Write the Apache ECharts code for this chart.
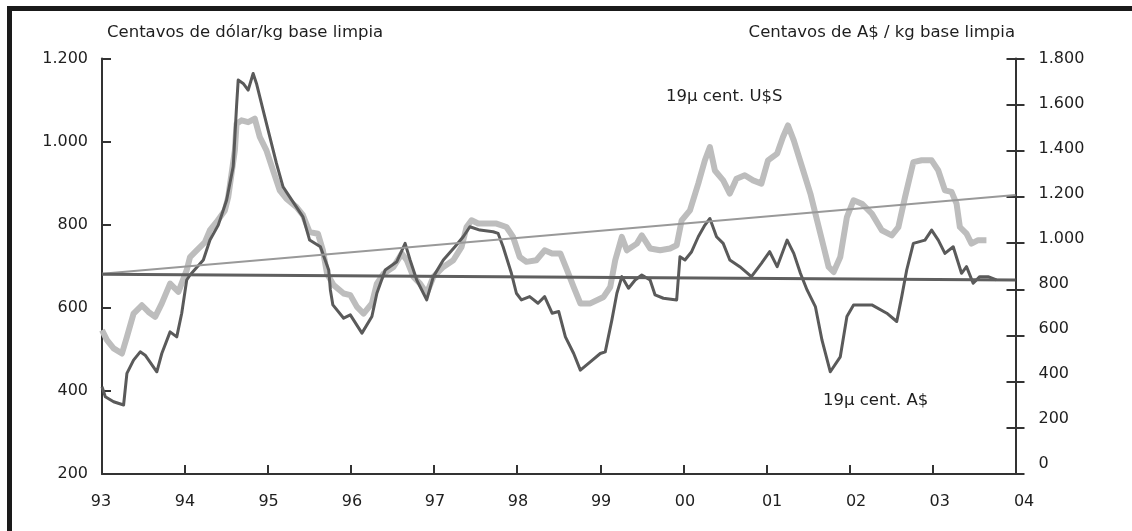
<!DOCTYPE html>
<html>
<head>
<meta charset="utf-8">
<script src="https://cdn.jsdelivr.net/npm/echarts@6/dist/echarts.min.js"></script>
<style>html,body{margin:0;padding:0;background:#fff}#c{width:1132px;height:531px}</style>
</head>
<body>
<div id="c"></div>
<script>
// 19µ — cents of US dollar per kg clean (left axis)
const usYears = [
  1993.00,1993.04,1993.14,1993.26,1993.30,1993.38,1993.46,1993.52,1993.66,1993.72,
  1993.82,1993.90,1993.96,1994.02,1994.06,1994.22,1994.30,1994.40,1994.50,1994.58,
  1994.62,1994.64,1994.70,1994.76,1994.82,1994.86,1994.94,1995.02,1995.10,1995.18,
  1995.26,1995.42,1995.50,1995.63,1995.73,1995.75,1995.78,1995.91,1995.99,1996.13,
  1996.25,1996.31,1996.41,1996.55,1996.65,1996.71,1996.79,1996.91,1996.99,1997.11,
  1997.25,1997.35,1997.43,1997.55,1997.71,1997.77,1997.83,1997.93,1997.99,1998.05,
  1998.15,1998.25,1998.33,1998.42,1998.50,1998.58,1998.68,1998.76,1998.88,1999.00,
  1999.06,1999.14,1999.20,1999.26,1999.34,1999.42,1999.50,1999.60,1999.66,1999.76,
  1999.92,1999.96,2000.02,2000.10,2000.18,2000.26,2000.32,2000.40,2000.48,2000.56,
  2000.68,2000.82,2000.94,2001.04,2001.13,2001.25,2001.33,2001.41,2001.49,2001.59,
  2001.67,2001.77,2001.89,2001.97,2002.05,2002.27,2002.45,2002.57,2002.63,2002.69,
  2002.77,2002.91,2002.99,2003.07,2003.15,2003.25,2003.35,2003.41,2003.49,2003.57,
  2003.67,2003.77
];
const usValues = [
  410,386,374,366,442,474,494,486,446,490,
  542,530,587,667,679,715,763,799,859,940,
  1084,1148,1140,1124,1164,1140,1076,1012,948,891,
  867,819,763,747,691,643,607,575,583,539,
  579,635,691,711,755,715,667,619,675,715,
  747,771,795,787,783,779,747,683,635,619,
  627,611,627,587,591,530,490,450,470,490,
  494,571,635,675,647,667,679,667,631,623,
  619,723,715,735,771,799,815,771,755,715,
  699,675,707,735,699,763,731,683,643,603,
  522,446,482,579,607,607,587,567,627,691,
  755,763,787,763,731,747,683,699,659,675,
  675,667
];
// 19µ — cents of A$ per kg clean (right axis)
const audYears = [
  1993.00,1993.06,1993.14,1993.24,1993.30,1993.38,1993.48,1993.56,1993.64,1993.72,
  1993.82,1993.92,1994.02,1994.06,1994.14,1994.24,1994.30,1994.38,1994.48,1994.52,
  1994.56,1994.60,1994.62,1994.68,1994.76,1994.84,1994.90,1994.98,1995.06,1995.14,
  1995.22,1995.34,1995.42,1995.50,1995.60,1995.66,1995.71,1995.79,1995.91,1995.99,
  1996.07,1996.15,1996.25,1996.31,1996.39,1996.51,1996.61,1996.67,1996.75,1996.83,
  1996.91,1996.99,1997.11,1997.23,1997.33,1997.39,1997.45,1997.53,1997.63,1997.75,
  1997.87,1997.95,1998.03,1998.11,1998.23,1998.33,1998.42,1998.52,1998.60,1998.68,
  1998.76,1998.88,1999.04,1999.12,1999.18,1999.26,1999.32,1999.44,1999.50,1999.60,
  1999.72,1999.84,1999.92,1999.98,2000.08,2000.18,2000.26,2000.32,2000.38,2000.48,
  2000.56,2000.64,2000.74,2000.84,2000.94,2001.02,2001.13,2001.20,2001.26,2001.33,
  2001.43,2001.53,2001.61,2001.69,2001.75,2001.81,2001.89,2001.97,2002.05,2002.15,
  2002.27,2002.39,2002.51,2002.59,2002.67,2002.77,2002.87,2002.99,2003.07,2003.15,
  2003.23,2003.29,2003.33,2003.41,2003.47,2003.55,2003.65
];
const audValues = [
  623,580,544,522,594,695,731,702,681,739,
  825,789,883,940,969,1005,1056,1092,1142,1200,
  1301,1402,1517,1532,1524,1539,1460,1402,1315,1229,
  1193,1157,1121,1048,1041,969,868,818,782,775,
  724,695,739,825,868,897,955,926,854,825,
  782,854,897,926,984,1070,1099,1085,1085,1085,
  1070,1027,940,919,926,969,955,955,883,810,
  739,739,767,810,926,1027,969,998,1034,977,
  969,977,991,1099,1142,1258,1359,1416,1315,1272,
  1215,1279,1294,1272,1258,1359,1388,1460,1510,1445,
  1330,1215,1099,984,897,875,940,1113,1186,1171,
  1128,1056,1034,1070,1200,1351,1359,1359,1315,1229,
  1222,1171,1070,1041,998,1013,1013
];
// trend lines
const trendYears = [1993, 2004];
const usTrend = [681, 667];
const audTrend = [868, 1209];

const xTickYears = [1993,1994,1995,1996,1997,1998,1999,2000,2001,2002,2003,2004];

const zip = (xs, ys) => xs.map((x, i) => [x, ys[i]]);
const FONT = 'DejaVu Sans';
const TXT = '#1e1e1e';
const AX = '#333';

function thousands(v) {
  if (v >= 1000) {
    const r = v % 1000;
    return Math.floor(v / 1000) + '.' + String(r).padStart(3, '0');
  }
  return String(v);
}

// small per-label offsets seen in the reference layout
const xLabelShift = {1993:-1,1994:0,1995:0.5,1996:0.8,1997:0.8,1998:0.8,1999:0.8,2000:1.7,2001:5.7,2002:6.7,2003:7.2,2004:8.6};
const xRich = {};
xTickYears.forEach(y => {
  const s = xLabelShift[y] || 0;
  xRich['y' + y] = {fontFamily: FONT, fontSize: 16, color: TXT,
    padding: s >= 0 ? [0, 0, 0, 2 * s] : [0, -2 * s, 0, 0]};
});
const rRich = {};
for (let v = 0; v <= 1800; v += 200) {
  const s = (1800 - v) / 180;
  rRich['r' + v] = {fontFamily: FONT, fontSize: 16, color: TXT, padding: [0, 0, 2 * s, 0]};
}

const chart = echarts.init(document.getElementById('c'), null, {renderer: 'canvas'});
chart.setOption({
  animation: false,
  backgroundColor: '#fff',
  grid: {left: 102, right: 116.5, top: 58.5, bottom: 57, containLabel: false},
  xAxis: {
    type: 'value', min: 1993, max: 2004, interval: 1,
    axisLine: {show: true, lineStyle: {color: AX, width: 2}},
    axisTick: {show: true, inside: true, length: 9, lineStyle: {color: AX, width: 2}},
    splitLine: {show: false},
    axisLabel: {
      margin: 20,
      formatter: v => '{y' + v + '|' + String(v % 100).padStart(2, '0') + '}',
      rich: xRich
    }
  },
  yAxis: [
    {
      type: 'value', position: 'left', min: 200, max: 1200, interval: 200,
      axisLine: {show: true, lineStyle: {color: AX, width: 2}},
      axisTick: {show: true, inside: true, length: 9, lineStyle: {color: AX, width: 2}},
      splitLine: {show: false},
      axisLabel: {margin: 14, fontFamily: FONT, fontSize: 16, color: TXT, formatter: thousands}
    },
    {
      type: 'value', position: 'right', min: 0, max: 1800, interval: 200,
      axisLine: {show: true, onZero: false, lineStyle: {color: AX, width: 2}},
      axisTick: {show: true, inside: false, length: 9, lineStyle: {color: AX, width: 2}},
      splitLine: {show: false},
      axisLabel: {margin: 23, formatter: v => '{r' + v + '|' + thousands(v) + '}', rich: rRich}
    },
    {
      type: 'value', position: 'right', min: 0, max: 1800, interval: 200,
      axisLine: {show: false},
      axisTick: {show: true, inside: true, length: 9, lineStyle: {color: AX, width: 2}},
      splitLine: {show: false},
      axisLabel: {show: false}
    }
  ],
  series: [
    {
      name: '19µ cent. A$', type: 'line', yAxisIndex: 1, z: 2,
      data: zip(audYears, audValues), showSymbol: false, symbol: 'none',
      lineStyle: {color: '#bdbdbd', width: 6, join: 'round'}
    },
    {
      name: '19µ cent. U$S', type: 'line', yAxisIndex: 0, z: 3,
      data: zip(usYears, usValues), showSymbol: false, symbol: 'none',
      lineStyle: {color: '#5a5a5a', width: 3, join: 'round'}
    },
    {
      name: 'Tendencia A$', type: 'line', yAxisIndex: 1, z: 4,
      data: zip(trendYears, audTrend), showSymbol: false, symbol: 'none',
      lineStyle: {color: '#999999', width: 2}
    },
    {
      name: 'Tendencia U$S', type: 'line', yAxisIndex: 0, z: 4,
      data: zip(trendYears, usTrend), showSymbol: false, symbol: 'none',
      lineStyle: {color: '#5f5f5f', width: 3}
    }
  ],
  graphic: [
    {type: 'rect', shape: {x: 7, y: 6, width: 1125, height: 5}, style: {fill: '#1a1a1a'}, silent: true},
    {type: 'rect', shape: {x: 7, y: 6, width: 5, height: 525}, style: {fill: '#1a1a1a'}, silent: true},
    {type: 'text', x: 107, y: 33, style: {text: 'Centavos de dólar/kg base limpia', font: '16.5px "DejaVu Sans"', fill: TXT, align: 'left', verticalAlign: 'middle'}},
    {type: 'text', x: 1015, y: 33, style: {text: 'Centavos de A$ / kg base limpia', font: '16.5px "DejaVu Sans"', fill: TXT, align: 'right', verticalAlign: 'middle'}},
    {type: 'text', x: 666, y: 97, style: {text: '19µ cent. U$S', font: '16.5px "DejaVu Sans"', fill: TXT, align: 'left', verticalAlign: 'middle'}},
    {type: 'text', x: 823, y: 401, style: {text: '19µ cent. A$', font: '16.5px "DejaVu Sans"', fill: TXT, align: 'left', verticalAlign: 'middle'}}
  ]
});
</script>
</body>
</html>
